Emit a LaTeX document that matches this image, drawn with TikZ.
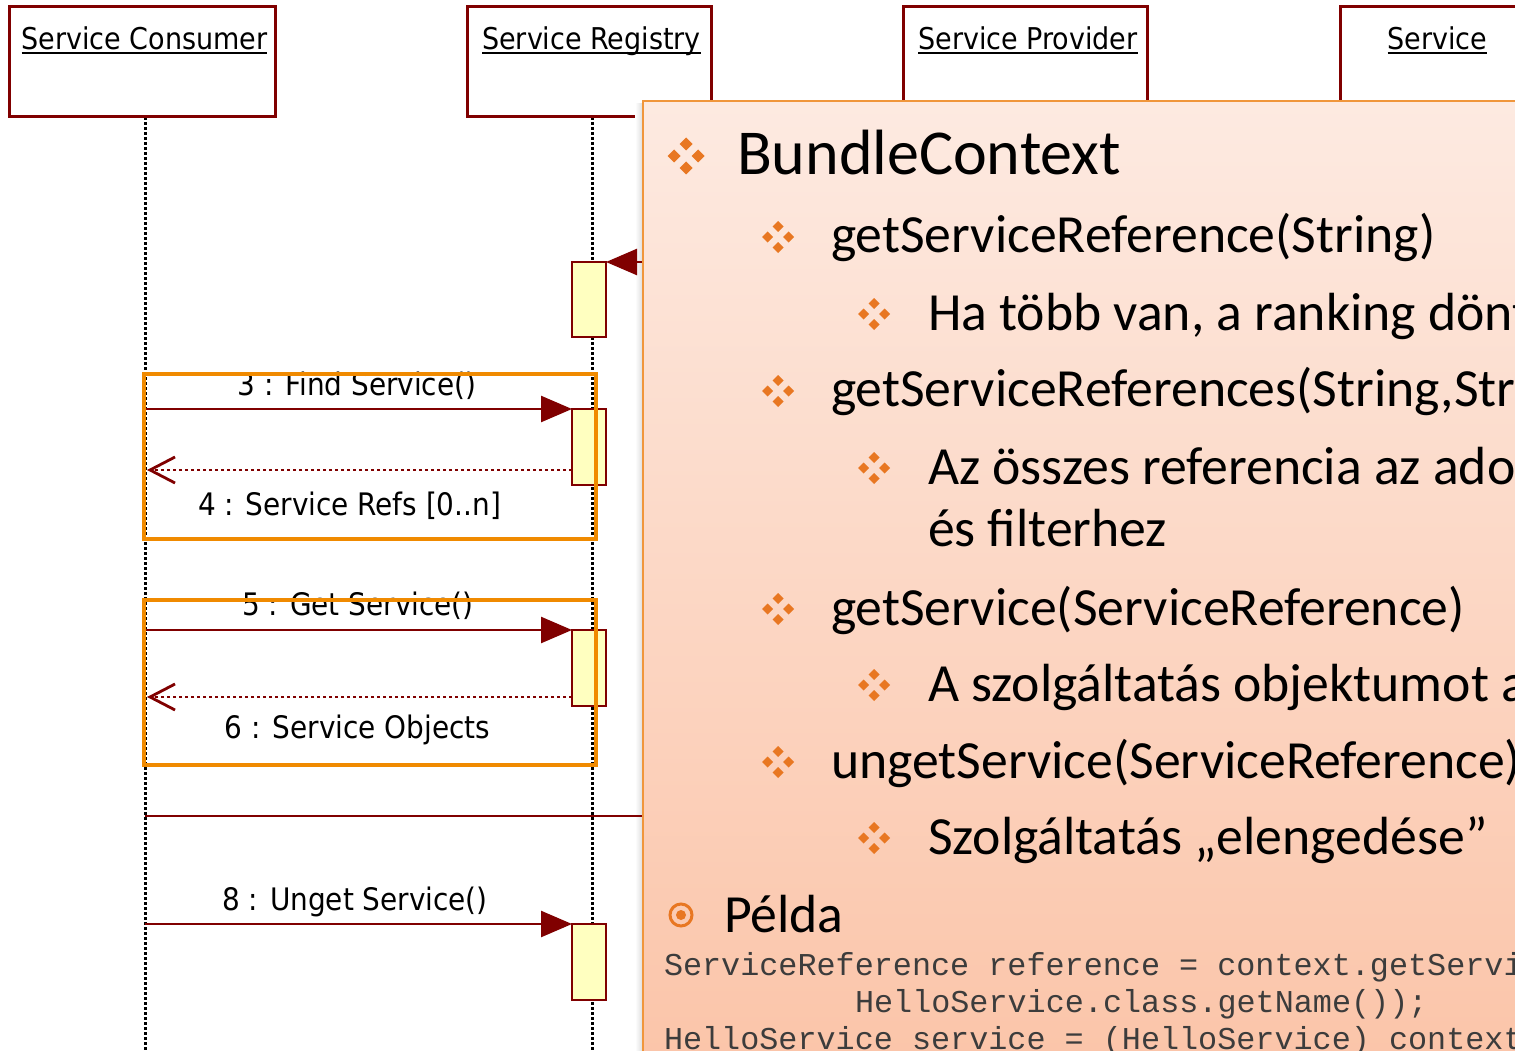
\documentclass[tikz,border=0pt]{standalone}
\usepackage{fontspec}
\setmainfont{Carlito}
\newfontfamily\lblfont{DejaVu Sans Condensed}
\newfontfamily\codefont{Liberation Mono}
\usetikzlibrary{arrows.meta}
\definecolor{dred}{RGB}{128,0,0}
\definecolor{actfill}{RGB}{255,255,192}
\definecolor{hl}{RGB}{240,138,0}
\definecolor{pborder}{RGB}{240,150,60}
\definecolor{ptop}{RGB}{253,234,225}
\definecolor{pbot}{RGB}{251,196,168}
\definecolor{bul}{RGB}{232,119,34}
\definecolor{codec}{RGB}{60,60,60}
\newcommand\qbul[4]{%
  \foreach \dx/\dy in {1/0,-1/0,0/1,0/-1}{%
    \fill[bul] ({#1+\dx*#3},{#2+\dy*#3}) +(-#4,0) -- +(0,#4) -- +(#4,0) -- +(0,-#4) -- cycle;}}
\tikzset{
  every node/.style={outer sep=0pt},
  hdrbox/.style={draw=dred, line width=3pt, fill=white, anchor=north west, inner sep=0pt, minimum height=110pt},
  hdrlbl/.style={anchor=base, inner sep=0pt, font=\lblfont\fontsize{30}{36}\selectfont},
  uline/.style={line width=2.2pt, black},
  lifeline/.style={black, line width=3pt, dash pattern=on 3pt off 2pt},
  actbox/.style={draw=dred, line width=2.4pt, fill=actfill, anchor=north, minimum width=34pt, minimum height=76pt, inner sep=0pt},
  msg/.style={draw=dred, line width=2.5pt, -{Triangle[length=31pt,width=26pt]}},
  ret/.style={draw=dred, line width=2.8pt, dash pattern=on 3pt off 3pt, -{Straight Barb[length=25pt,width=26pt]}},
  plainmsg/.style={draw=dred, line width=2.5pt},
  msglbl/.style={anchor=base, inner sep=0pt, font=\lblfont\fontsize{31}{37}\selectfont},
  hlbox/.style={draw=hl, line width=4pt, anchor=north west, inner sep=0pt, minimum width=452pt, minimum height=165pt},
  panel/.style={draw=pborder, line width=2.4pt, top color=ptop, bottom color=pbot, anchor=north west, inner sep=0pt, minimum width=900pt, minimum height=980pt},
  lone/.style={anchor=base west, inner sep=0pt, font=\fontsize{64}{72}\selectfont},
  ltwo/.style={anchor=base west, inner sep=0pt, font=\fontsize{53.7}{64}\selectfont},
  code/.style={anchor=base west, inner sep=0pt, text=codec, font=\codefont\fontsize{31.8}{37}\selectfont},
}
\begin{document}
\begin{tikzpicture}[x=1pt,y=-1pt]
\useasboundingbox (0,0) rectangle (1515,1051);
\clip (0,0) rectangle (1515,1051);

% lifelines
\coordinate (consTop) at (145,117);
\coordinate (consBot) at (145,1055);
\coordinate (regTop) at (592,117);
\coordinate (regBot) at (592,1055);
\draw[lifeline] (consTop) -- (consBot);
\draw[lifeline] (regTop) -- (regBot);

% header boxes
\node[hdrbox, minimum width=266pt] (cons) at (9,7) {};
\node[hdrbox, minimum width=244pt] (reg) at (467,7) {};
\node[hdrbox, minimum width=244pt] (prov) at (903,7) {};
\node[hdrbox, minimum width=244pt] (serv) at (1340,7) {};
\node[hdrlbl] (consL) at (144.5,50) {Service Consumer};
\node[hdrlbl] (regL) at (591.5,50) {Service Registry};
\node[hdrlbl] (provL) at (1028,50) {Service Provider};
\node[hdrlbl] (servL) at (1437.5,50) {Service};
\foreach \n in {consL,regL,provL,servL}
  \draw[uline] ([yshift=-3pt]\n.base west) -- ([yshift=-3pt]\n.base east);

% activation boxes
\node[actbox, minimum height=75pt] (act1) at (589,262) {};
\node[actbox] (act2) at (589,409) {};
\node[actbox] (act3) at (589,630) {};
\node[actbox] (act4) at (589,924) {};

% message anchors on consumer lifeline
\coordinate (c3) at (145,409);
\coordinate (c4) at (147,470);
\coordinate (c5) at (145,630);
\coordinate (c6) at (147,697);
\coordinate (c7) at (145,816);
\coordinate (c8) at (145,924);

\draw[msg] (c3) -- (act2.north west);
\draw[ret] (act2.west |- c4) -- (c4);
\draw[msg] (c5) -- (act3.north west);
\draw[ret] (act3.west |- c6) -- (c6);
\draw[msg] (c8) -- (act4.north west);

\node[msglbl] (l3) at (357,395) {3 : Find Service()};
\node[msglbl] (l4) at (349.5,515) {4 : Service Refs [0..n]};
\node[msglbl] (l5) at (358,615) {5 : Get Service()};
\node[msglbl] (l6) at (357.5,738) {6 : Service Objects};
\node[msglbl] (l8) at (355,910) {8 : Unget Service()};

% highlight frames
\node[hlbox] (hl1) at (144,374) {};
\node[hlbox] (hl2) at (144,600) {};

% overlay panel with faint shadow
\coordinate (shTop) at (635,104);
\coordinate (shBot) at (643,1060);
\shade[left color=white, right color=black!14] (shTop) rectangle (shBot);
\node[panel] (panel) at (643,101) {};
\draw[msg] (panel.west |- act1.north) -- (act1.north east);
\draw[plainmsg] (c7) -- (c7 -| panel.west);
\draw[pborder, line width=2.4pt] (panel.north west) -- (panel.south west);

% panel content
\qbul{686}{156}{12}{6.5}
\node[lone] (t1) at (737,175) {BundleContext};
\qbul{778}{237}{10.5}{5.5}
\node[ltwo] (t2) at (831,252) {getServiceReference(String)};
\qbul{874}{314}{10.5}{5.5}
\node[ltwo] (t3) at (928,330) {Ha több van, a ranking dönt};
\qbul{778}{391}{10.5}{5.5}
\node[ltwo] (t4) at (831,406) {getServiceReferences(String,String)};
\qbul{874}{468}{10.5}{5.5}
\node[ltwo] (t5) at (928,484) {Az összes referencia az adott osztályhoz};
\node[ltwo] (t6) at (928,546) {és filterhez};
\qbul{778}{609}{10.5}{5.5}
\node[ltwo] (t7) at (831,625) {getService(ServiceReference)};
\qbul{874}{685}{10.5}{5.5}
\node[ltwo] (t8) at (928,701) {A szolgáltatás objektumot adja vissza};
\qbul{778}{762}{10.5}{5.5}
\node[ltwo] (t9) at (831,778) {ungetService(ServiceReference)};
\qbul{874}{838}{10.5}{5.5}
\node[ltwo] (t10) at (928,854) {Szolgáltatás „elengedése”};
\draw[bul, line width=3pt] (681,915) circle[radius=11pt];
\fill[bul] (681,915) circle[radius=5pt];
\node[ltwo] (t11) at (724,932) {Példa};
\node[code] (k1) at (664,975) {ServiceReference reference = context.getServiceReference(};
\node[code] (k2) at (855,1012) {HelloService.class.getName());};
\node[code] (k3) at (664,1049) {HelloService service = (HelloService) context.getService(reference);};
\end{tikzpicture}
\end{document}
